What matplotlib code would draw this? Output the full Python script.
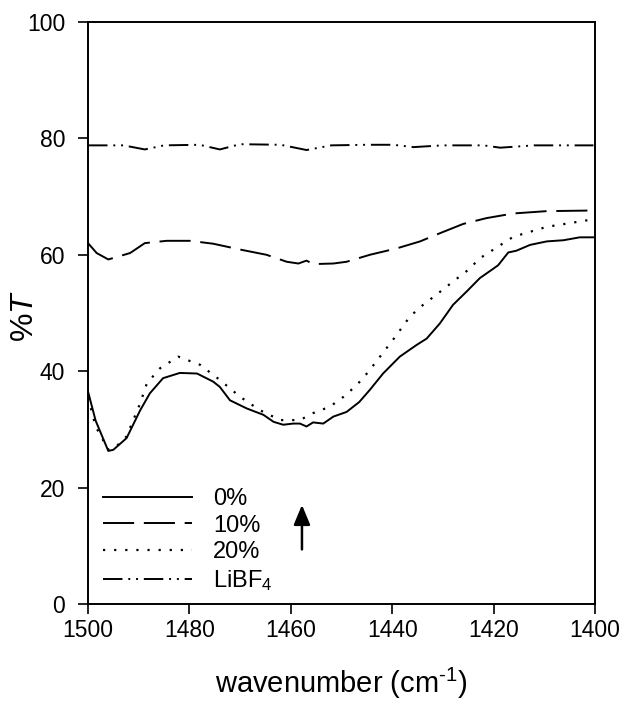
import matplotlib
matplotlib.use("Agg")
import matplotlib.pyplot as plt

plt.rcParams['font.family'] = ['Liberation Sans', 'DejaVu Sans']
plt.rcParams['mathtext.fontset'] = 'custom'
plt.rcParams['mathtext.rm'] = 'Liberation Sans'
plt.rcParams['mathtext.it'] = 'Liberation Sans:italic'
plt.rcParams['mathtext.default'] = 'regular'

# 0 % sample
wn_0 = [1500.0, 1498.5, 1496.0, 1495.0, 1492.4, 1489.7, 1487.8, 1485.2, 1481.9,
        1478.5, 1475.3, 1474.0, 1472.0, 1468.7, 1465.4, 1463.4, 1461.5, 1459.5,
        1458.2, 1456.9, 1455.6, 1453.6, 1451.6, 1449.0, 1446.5, 1444.4, 1441.8,
        1438.5, 1435.2, 1433.2, 1430.6, 1428.0, 1425.3, 1422.7, 1420.4, 1419.1,
        1417.1, 1415.5, 1412.8, 1409.5, 1406.2, 1403.0, 1400.3]
t_0 = [36.5, 31.5, 26.3, 26.5, 28.5, 33.3, 36.2, 38.8, 39.7,
       39.6, 38.2, 37.3, 35.0, 33.6, 32.5, 31.3, 30.8, 31.0,
       31.0, 30.5, 31.2, 31.0, 32.2, 33.0, 34.7, 36.8, 39.6,
       42.5, 44.5, 45.6, 48.2, 51.4, 53.7, 56.0, 57.4, 58.2,
       60.4, 60.7, 61.7, 62.3, 62.5, 63.0, 63.0]

# 10 % sample
wn_10 = [1500.0, 1498.3, 1496.0, 1491.7, 1488.8, 1484.5, 1479.9, 1475.3, 1470.0,
         1464.8, 1460.8, 1458.5, 1456.9, 1455.6, 1451.6, 1449.0, 1444.4, 1439.1,
         1434.5, 1430.6, 1426.0, 1421.4, 1416.1, 1409.5, 1401.0, 1400.3]
t_10 = [62.0, 60.3, 59.2, 60.3, 62.0, 62.4, 62.4, 61.9, 60.9,
        60.0, 58.8, 58.5, 59.0, 58.4, 58.5, 58.8, 60.0, 61.1,
        62.3, 63.7, 65.3, 66.3, 67.1, 67.5, 67.6, 67.6]

# 20 % sample
wn_20 = [1500.0, 1498.5, 1496.0, 1494.5, 1492.4, 1489.7, 1488.4, 1485.8, 1482.2,
         1477.9, 1474.0, 1470.0, 1466.1, 1462.1, 1458.2, 1455.6, 1452.3, 1449.6,
         1447.0, 1444.7, 1442.4, 1439.4, 1436.5, 1433.9, 1430.9, 1428.0, 1425.0,
         1422.7, 1416.1, 1409.5, 1400.3]
t_20 = [35.5, 30.5, 26.5, 27.0, 28.8, 34.5, 37.9, 40.5, 42.5,
        41.1, 38.5, 35.6, 33.3, 31.6, 31.6, 32.8, 33.9, 35.6,
        37.6, 39.9, 42.5, 45.9, 49.4, 51.4, 53.4, 55.4, 57.4,
        59.4, 63.1, 64.8, 66.1]

# LiBF4 reference
wn_li = [1500.0, 1493.0, 1488.8, 1485.0, 1478.0, 1474.0, 1470.0, 1462.0, 1456.9,
         1452.0, 1445.0, 1439.8, 1435.8, 1430.0, 1422.0, 1418.7, 1412.0, 1405.0, 1400.3]
t_li = [78.8, 78.8, 78.1, 78.8, 78.9, 78.1, 79.0, 78.9, 78.0,
        78.8, 78.9, 78.9, 78.5, 78.8, 78.8, 78.4, 78.8, 78.8, 78.8]

series = [
    (wn_0, t_0, '0%', '-', 1.4),
    (wn_10, t_10, '10%', (0, (16, 5)), 1.4),
    (wn_20, t_20, '20%', (0, (1, 4)), 1.6),
    (wn_li, t_li, 'LiBF$_4$', (0, (10, 3, 1, 3, 1, 3)), 1.4),
]

fig = plt.figure(figsize=(6.23, 7.02), dpi=100)
ax = fig.add_axes([0.1413, 0.1396, 0.8137, 0.8291])

for wn, t, label, ls, lw in series:
    ax.plot(wn, t, color='black', linestyle=ls, linewidth=lw, label=label)

# arrow marking the rise in transmittance
ax.annotate('', xy=(1457.8, 17.5), xytext=(1457.8, 8.9),
            arrowprops=dict(arrowstyle='-|>,head_width=0.5,head_length=1.2',
                            color='black', linewidth=1.8))

ax.set_xlim(1500, 1400)
ax.set_ylim(0, 100)
ax.set_xticks([1500, 1480, 1460, 1440, 1420, 1400])
ax.set_yticks([0, 20, 40, 60, 80, 100])
ax.tick_params(direction='out', length=7, width=1.2, labelsize=16.5,
               top=False, right=False)
ax.tick_params(axis='x', pad=4)
ax.tick_params(axis='y', pad=9.5)
for sp in ax.spines.values():
    sp.set_linewidth(1.4)

ax.set_xlabel('wavenumber (cm$^{\\text{-}1}$)', fontsize=21, labelpad=17)
ax.set_ylabel('%$\\mathit{T}$', fontsize=23)
ax.yaxis.set_label_coords(-0.095, 0.495)

ax.legend(loc='lower left', frameon=False, fontsize=17, handlelength=3.77,
          handletextpad=0.89, labelspacing=0.2, borderpad=0, borderaxespad=0,
          bbox_to_anchor=(0.0296, 0.019))

fig.savefig('out.png', dpi=100)
